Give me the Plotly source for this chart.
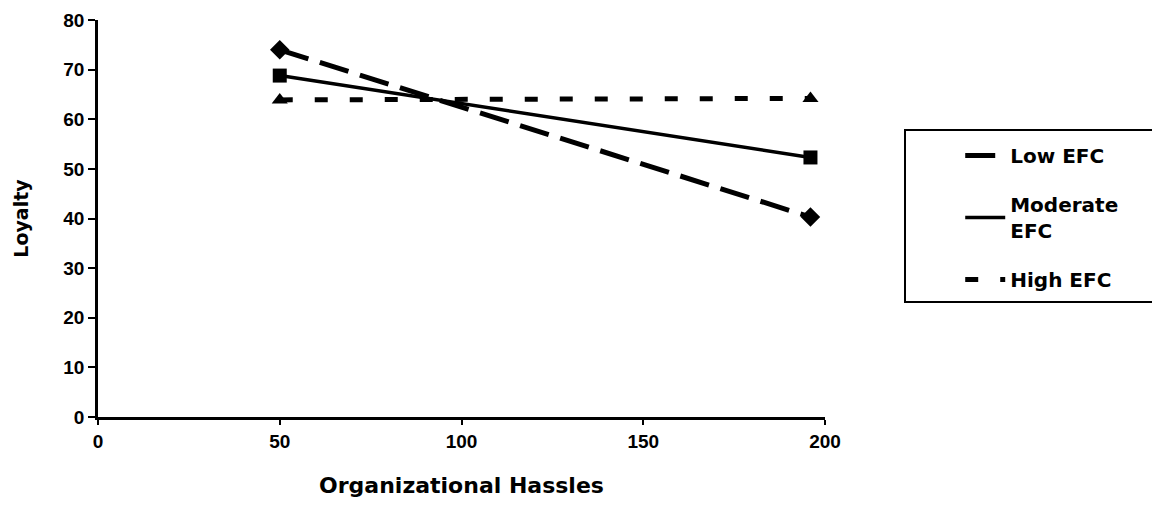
import plotly.graph_objects as go

hassles = [50, 196]
low_efc = [74, 40.3]
moderate_efc = [68.8, 52.3]
high_efc = [63.9, 64.2]

series = [
    ("Low EFC", low_efc, "30px,12px", 5, "diamond", 15),
    ("Moderate<br>EFC", moderate_efc, "solid", 3.5, "square", 14),
    ("High EFC", high_efc, "13px,22px", 5, "triangle-up", 14),
]

fig = go.Figure()
for i, (name, vals, dash, w, sym, ms) in enumerate(series):
    fig.add_trace(go.Scatter(
        x=hassles, y=vals, mode="lines", name=name,
        line=dict(color="black", width=w, dash=dash),
        legendgroup=f"g{i}", showlegend=True,
    ))
    fig.add_trace(go.Scatter(
        x=hassles, y=vals, mode="markers", name=name,
        marker=dict(color="black", symbol=sym, size=ms),
        legendgroup=f"g{i}", showlegend=False,
    ))

tick_family = "Liberation Sans, Arial, sans-serif"
title_family = "DejaVu Sans, sans-serif"

L, T, W, H = 90, 12, 727, 397

fig.update_layout(
    width=1160, height=514,
    margin=dict(l=L, r=1160 - L - W, t=T, b=514 - T - H, autoexpand=False),
    plot_bgcolor="white", paper_bgcolor="white",
    showlegend=True,
    legend=dict(
        x=1.186, y=0.708, xanchor="left", yanchor="top",
        font=dict(family=title_family, size=20, color="black", weight="bold"),
        traceorder="grouped", tracegroupgap=20,
        borderwidth=0, bgcolor="rgba(0,0,0,0)",
        itemwidth=40,
    ),
    shapes=[dict(
        type="rect", xref="paper", yref="paper",
        x0=(897 - L) / W, x1=(1175 - L) / W,
        y0=(T + H - 294) / H, y1=(T + H - 122) / H,
        line=dict(color="black", width=2), fillcolor="rgba(0,0,0,0)",
    )],
)

fig.update_xaxes(
    range=[0, 200], tickvals=[0, 50, 100, 150, 200],
    showline=True, linecolor="black", linewidth=2.5,
    ticks="outside", ticklen=5, tickwidth=2, tickcolor="black",
    showgrid=False, zeroline=False, automargin=False,
    tickfont=dict(family=tick_family, size=19, color="black", weight="bold"),
    title=dict(text="Organizational Hassles", standoff=28,
               font=dict(family=title_family, size=22, color="black", weight="bold")),
)
fig.update_yaxes(
    range=[0, 80], tickvals=[0, 10, 20, 30, 40, 50, 60, 70, 80],
    showline=True, linecolor="black", linewidth=2.5,
    ticks="outside", ticklen=7, tickwidth=2, tickcolor="black",
    showgrid=False, zeroline=False, automargin=False,
    tickfont=dict(family=tick_family, size=19, color="black", weight="bold"),
    title=dict(text="Loyalty", standoff=30,
               font=dict(family=title_family, size=19, color="black", weight="bold")),
)

fig.write_html("out.html")
